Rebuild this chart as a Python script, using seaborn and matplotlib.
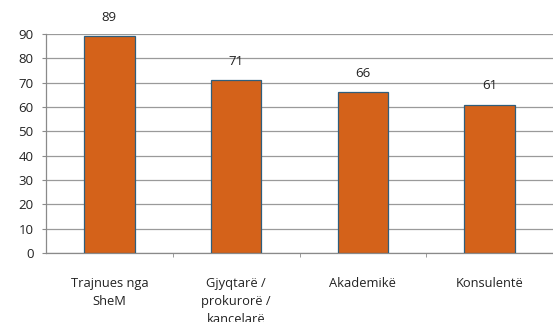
import matplotlib
matplotlib.use("Agg")
import matplotlib.pyplot as plt
import seaborn as sns
import pandas as pd
from matplotlib.ticker import FixedLocator

# Data
categories = ["Trajnues nga\nSheM", "Gjyqtarë /\nprokurorë /\nkancelarë", "Akademikë", "Konsulentë"]
values = [89, 71, 66, 61]
yticks = list(range(0, 100, 10))

df = pd.DataFrame({"category": categories, "value": values})

sns.set_style("white")
plt.rcParams["font.family"] = ["Open Sans", "DejaVu Sans"]

fig = plt.figure(figsize=(5.53, 3.22), dpi=100)
ax = fig.add_axes([46 / 553, 1 - 253 / 322, 1 - 46 / 553, (253 - 34) / 322])

sns.barplot(data=df, x="category", y="value", color="#D4621A", width=0.4,
            edgecolor="#2F5E7C", linewidth=0.9, saturation=1, ax=ax, zorder=3)

ax.set_xlim(-0.5, len(categories) - 0.5)
ax.set_ylim(0, 90)
ax.set_yticks(yticks)
ax.grid(axis="y", color="#9a9a9a", linewidth=0.9, zorder=0)
ax.set_axisbelow(True)

# value labels
for i, v in enumerate(values):
    ax.annotate(str(v), (i, v), xytext=(0, 9), textcoords="offset points",
                ha="center", va="bottom", fontsize=9.5, color="#222222")

for s in ["top", "right"]:
    ax.spines[s].set_visible(False)
for s in ["left", "bottom"]:
    ax.spines[s].set_color("#8a8a8a")
    ax.spines[s].set_linewidth(0.9)

ax.set_xlabel("")
ax.set_ylabel("")
ax.tick_params(axis="y", length=3, color="#8a8a8a", labelsize=9.5, pad=6, direction="out", left=True)
ax.tick_params(axis="x", which="major", length=0, labelsize=9.3, pad=17)
ax.xaxis.set_minor_locator(FixedLocator([0.5, 1.5, 2.5]))
ax.tick_params(axis="x", which="minor", length=3, color="#8a8a8a", bottom=True, direction="out")
for lbl in ax.get_xticklabels():
    lbl.set_linespacing(1.5)
    lbl.set_color("#222222")
for lbl in ax.get_yticklabels():
    lbl.set_color("#222222")

fig.savefig("out.png", dpi=100)
